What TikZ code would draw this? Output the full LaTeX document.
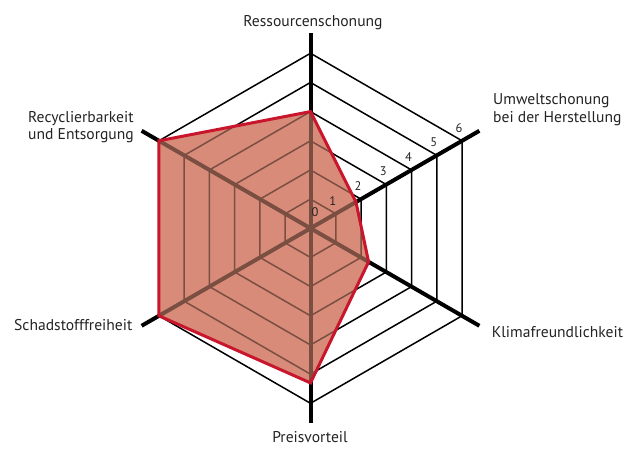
\documentclass[tikz,border=0pt]{standalone}
\usepackage{fontspec}
\setmainfont{PT Sans}
\usetikzlibrary{calc}
\definecolor{areafill}{RGB}{217,139,122}
\definecolor{areagrid}{RGB}{122,78,64}
\definecolor{outline}{RGB}{200,22,44}
\definecolor{labeltext}{RGB}{35,35,35}
\tikzset{
  ringline/.style={line width=1.5pt, line join=miter},
  axisline/.style={line width=4pt},
  valueline/.style={draw=outline, line width=3pt, line join=miter},
  axislabel/.style={font=\fontsize{15.6}{18}\selectfont, text=labeltext, inner sep=0pt},
  ticklabel/.style={font=\fontsize{12.5}{14}\selectfont, text=labeltext, inner sep=0pt}
}
\def\u{29.17}
% concentric hexagons and the six axes, in a given colour
\newcommand{\gridlines}[1]{%
  \foreach \k in {1,...,6}
    \draw[ringline,#1] (90:{\k*\u}) -- (30:{\k*\u}) -- (-30:{\k*\u}) -- (-90:{\k*\u}) -- (210:{\k*\u}) -- (150:{\k*\u}) -- cycle;
  \foreach \a in {90,30,-30,-90,210,150}
    \draw[axisline,#1] (O) -- (\a:195);
}
\begin{document}
\begin{tikzpicture}[x=1pt,y=1pt]
\useasboundingbox (0,0) rectangle (640,452);
\begin{scope}[shift={(310.5,223.7)}]
  \coordinate (O) at (0,0);
  \gridlines{black}
  % value area
  \path (90:{4.0*\u}) coordinate (v1)
        (30:{1.8*\u}) coordinate (v2)
        (-30:{2.3*\u}) coordinate (v3)
        (-90:{5.3*\u}) coordinate (v4)
        (210:{6*\u}) coordinate (v5)
        (150:{6*\u}) coordinate (v6);
  \fill[areafill] (v1) -- (v2) -- (v3) -- (v4) -- (v5) -- (v6) -- cycle;
  \begin{scope}
    \clip (v1) -- (v2) -- (v3) -- (v4) -- (v5) -- (v6) -- cycle;
    \gridlines{areagrid}
  \end{scope}
  \draw[valueline] (v1) -- (v2) -- (v3) -- (v4) -- (v5) -- (v6) -- cycle;
  % scale numbers along the upper right axis
  \node[ticklabel] (t0) at (4.5,16) {0};
  \foreach \k in {1,...,6}
    \node[ticklabel] (t\k) at ($(30:{\k*\u})+(-3,13)$) {\k};
\end{scope}
% axis captions
\node[axislabel, anchor=base] (lres) at (313,425.3) {Ressourcenschonung};
\node[axislabel, anchor=base west] (lumw1) at (493,347) {Umweltschonung};
\node[axislabel, anchor=base west] (lumw2) at (493,329.3) {bei der Herstellung};
\node[axislabel, anchor=base west] (lkli) at (491.7,114.7) {Klimafreundlichkeit};
\node[axislabel, anchor=base] (lpre) at (310,9) {Preisvorteil};
\node[axislabel, anchor=base west] (lsch) at (14,121) {Schadstofffreiheit};
\node[axislabel, anchor=base west] (lrec1) at (28,329.7) {Recyclierbarkeit};
\node[axislabel, anchor=base west] (lrec2) at (28,312) {und Entsorgung};
\end{tikzpicture}
\end{document}
